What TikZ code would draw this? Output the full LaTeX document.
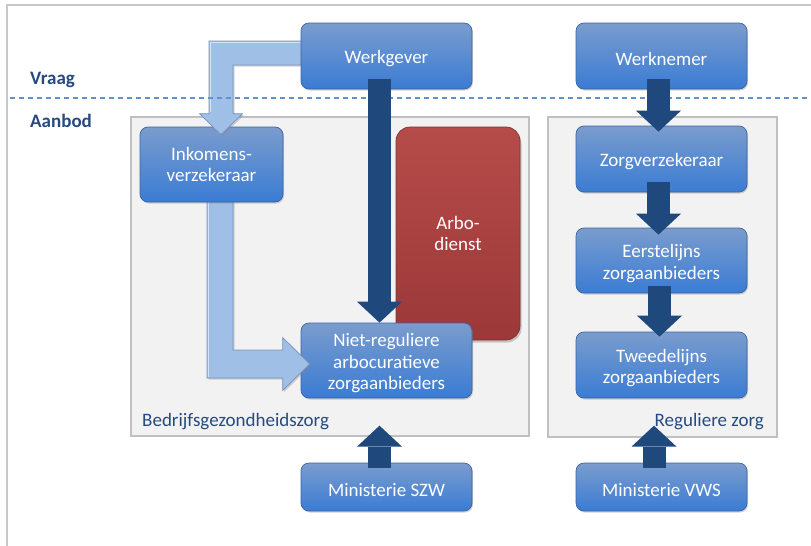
\documentclass[tikz,border=0pt]{standalone}
\usepackage{fontspec}
\setmainfont{Carlito}
\usetikzlibrary{arrows.meta,shadows,calc}

\definecolor{boxtop}{RGB}{122,156,205}
\definecolor{boxbot}{RGB}{58,124,212}
\definecolor{boxedge}{RGB}{62,100,160}
\definecolor{redtop}{RGB}{182,76,74}
\definecolor{redbot}{RGB}{155,56,56}
\definecolor{rededge}{RGB}{135,48,48}
\definecolor{darkarrow}{RGB}{31,72,125}
\definecolor{lightfill}{RGB}{160,191,230}
\definecolor{lightedge}{RGB}{118,146,188}
\definecolor{labelblue}{RGB}{38,74,128}
\definecolor{dashblue}{RGB}{96,146,210}
\definecolor{panelfill}{RGB}{242,242,242}
\definecolor{paneledge}{RGB}{192,192,192}
\definecolor{framegray}{RGB}{200,200,200}

\newcommand\boxfont{\fontsize{19}{21.5}\selectfont}
% taller first line, so the text sits a little lower in its box
\newcommand\firstlinestrut{\rule{0pt}{19pt}}

\pgfdeclarelayer{bg}
\pgfdeclarelayer{lay1}
\pgfdeclarelayer{lay2}
\pgfdeclarelayer{lay3}
\pgfdeclarelayer{lay4}
\pgfsetlayers{bg,lay1,lay2,lay3,lay4,main}

\tikzset{
  bluebox/.style={rectangle, rounded corners=8pt, top color=boxtop, bottom color=boxbot,
    draw=boxedge, line width=0.7pt, text=white, font=\boxfont, align=center, inner sep=2pt,
    minimum width=171pt, execute at begin node=\firstlinestrut,
    drop shadow={shadow xshift=1pt, shadow yshift=-1.5pt, opacity=0.35}},
  redbox/.style={rectangle, rounded corners=14pt, top color=redtop, bottom color=redbot,
    draw=rededge, line width=0.7pt, text=white, font=\boxfont, align=center,
    drop shadow={shadow xshift=1.5pt, shadow yshift=-2.5pt, opacity=0.4}},
  panel/.style={rectangle, fill=panelfill, draw=paneledge, line width=1.5pt, anchor=north west},
  zonelabel/.style={font=\boxfont\bfseries, text=labelblue, anchor=west, inner sep=0pt},
  panellabel/.style={font=\boxfont, text=labelblue, inner sep=0pt},
  darrow/.style={draw=darkarrow, line width=23pt,
    -{Triangle[width=45pt, length=21pt, line width=0pt]}},
  larrow/.style={fill=lightfill, draw=lightedge, line width=0.7pt, line join=miter,
    drop shadow={shadow xshift=1.5pt, shadow yshift=-1.5pt, opacity=0.35}},
  lhighlight/.style={draw=white, opacity=0.55, line width=1.5pt, line join=miter},
}

\begin{document}
\begin{tikzpicture}[x=1pt, y=-1pt]
  \useasboundingbox (0,0) rectangle (811,546);

  % page, frame and panels on the bottom layer
  \begin{pgfonlayer}{bg}
    \fill[white] (0,0) rectangle (811,546);
    \draw[framegray, line width=2pt] (7,546) -- (7,5) -- (815,5);
    \node[panel, minimum width=398pt, minimum height=319pt] (lp) at (130,116) {};
    \node[panel, minimum width=229pt, minimum height=320pt] (rp) at (547,116) {};
    \node[redbox, minimum width=124pt, minimum height=213pt] (arbo) at (458,233.5) {Arbo-\\dienst};
  \end{pgfonlayer}

  % demand / supply divide
  \draw[dashblue, line width=1.2pt, dash pattern=on 5pt off 4pt] (10,98) -- (811,98);
  \node[zonelabel] (vraag) at (30,80) {Vraag};
  \node[zonelabel] (aanbod) at (30,121) {Aanbod};

  \node[panellabel, anchor=west] (lblB) at (142,421.5) {Bedrijfsgezondheidszorg};
  \node[panellabel, anchor=east] (lblR) at (764,421.5) {Reguliere zorg};

  % actors
  \node[bluebox, minimum height=66pt] (wg) at (386.5,56) {Werkgever};
  \node[bluebox, minimum height=66pt] (wn) at (661.5,56) {Werknemer};
  \node[bluebox, minimum height=66pt] (zv) at (661.5,159) {Zorgverzekeraar};
  \node[bluebox, minimum height=65pt] (el) at (661.5,260.5) {\firstlinestrut Eerstelijns\\zorgaanbieders};
  \node[bluebox, minimum height=66pt] (tl) at (661.5,365) {\firstlinestrut Tweedelijns\\zorgaanbieders};
  \node[bluebox, minimum height=48pt] (szw) at (386.5,487) {Ministerie SZW};
  \node[bluebox, minimum height=48pt] (vws) at (661.5,487) {Ministerie VWS};
  \begin{pgfonlayer}{lay1}
    \node[bluebox, minimum height=75pt] (nr) at (386.5,360.5) {\firstlinestrut Niet-reguliere\\arbocuratieve\\zorgaanbieders};
  \end{pgfonlayer}
  \begin{pgfonlayer}{lay3}
    \node[bluebox, minimum width=143pt, minimum height=75pt] (ink) at (211.5,164.5) {Inkomens-\\verzekeraar};
  \end{pgfonlayer}

  % bent arrows of the income insurance route
  \coordinate (a1s) at ([xshift=9pt, yshift=3pt]wg.west);
  \coordinate (a1e) at ([xshift=9.5pt, yshift=-8pt]ink.north);
  \begin{pgfonlayer}{lay4}
    \path[larrow] let \p1=(a1s), \p2=(a1e) in
      (\x1,\y1+12pt) -- (\x2-12pt,\y1+12pt) -- (\x2-12pt,\y2+21pt) -- (\x2-21.5pt,\y2+21pt)
      -- (\x2,\y2) -- (\x2+21.5pt,\y2+21pt) -- (\x2+12pt,\y2+21pt) -- (\x2+12pt,\y1-12pt)
      -- (\x1,\y1-12pt) -- cycle;
    \path[lhighlight] let \p1=(a1s), \p2=(a1e) in
      (\x1-2pt,\y1+10.5pt) -- (\x2-10.5pt,\y1+10.5pt) -- (\x2-10.5pt,\y2+23pt);
  \end{pgfonlayer}
  \coordinate (a2s) at ([xshift=8.5pt, yshift=4pt]ink.south);
  \coordinate (a2e) at ([xshift=9pt, yshift=-3.5pt]nr.west);
  \begin{pgfonlayer}{lay2}
    \path[larrow] let \p1=(a2s), \p2=(a2e) in
      (\x1-13pt,\y1) -- (\x1-13pt,\y2-14pt) -- (\x2-27pt,\y2-14pt) -- (\x2-27pt,\y2-26.5pt)
      -- (\x2,\y2) -- (\x2-27pt,\y2+26.5pt) -- (\x2-27pt,\y2+14pt) -- (\x1+13pt,\y2+14pt)
      -- (\x1+13pt,\y1) -- cycle;
    \path[lhighlight] let \p1=(a2s), \p2=(a2e) in
      (\x1-11.5pt,\y1-2pt) -- (\x1-11.5pt,\y2-12.5pt);
  \end{pgfonlayer}

  % direct arrows
  \draw[darrow] ([xshift=-7pt, yshift=10pt]wg.south) -- ([xshift=-7pt]nr.north);
  \draw[darrow] ([xshift=-3pt, yshift=10pt]wn.south) -- ([xshift=-3pt, yshift=-6pt]zv.north);
  \draw[darrow] ([xshift=-3pt, yshift=10pt]zv.south) -- ([xshift=-3pt, yshift=-7pt]el.north);
  \draw[darrow] ([xshift=-2pt, yshift=7pt]el.south) -- ([xshift=-2pt, yshift=-5pt]tl.north);
  \draw[darrow] ([xshift=-7pt, yshift=-5pt]szw.north) -- ([xshift=-7pt, yshift=37pt]szw.north);
  \draw[darrow] ([xshift=-7.5pt, yshift=-5pt]vws.north) -- ([xshift=-7.5pt, yshift=37pt]vws.north);
\end{tikzpicture}
\end{document}
